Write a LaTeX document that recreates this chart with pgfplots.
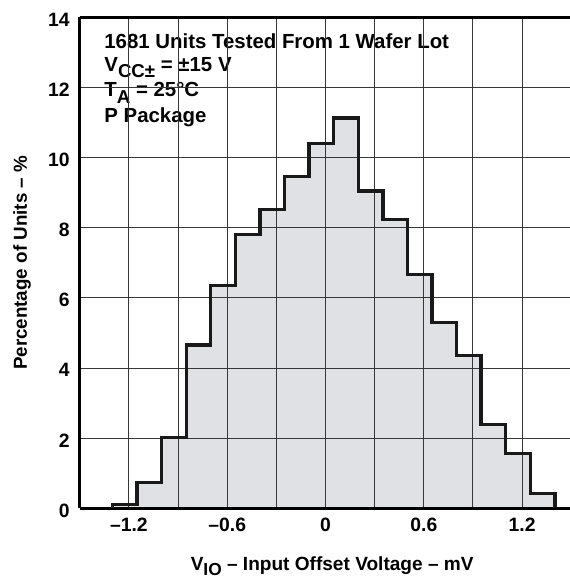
\documentclass[border=0pt]{standalone}
\usepackage{fontspec}
\setmainfont{Liberation Sans}
\usepackage{pgfplots}
\pgfplotsset{compat=1.18}
\definecolor{histfill}{RGB}{224,225,228}
\definecolor{gridc}{RGB}{55,55,55}
\pgfplotstableread{
x y
-1.30 0
-1.30 0.10
-1.15 0.74
-1.00 2.02
-0.85 4.66
-0.70 6.35
-0.55 7.81
-0.40 8.52
-0.25 9.46
-0.10 10.40
0.05 11.13
0.20 9.05
0.35 8.23
0.50 6.66
0.65 5.30
0.80 4.36
0.95 2.39
1.10 1.56
1.25 0.42
1.40 0.42
1.40 0
}\histdata
\begin{document}
\begin{tikzpicture}
\begin{axis}[
  set layers=axis on top,
  scale only axis,
  width=368.6pt, height=368.1pt,
  xmin=-1.5, xmax=1.5, ymin=0, ymax=14,
  axis x line=box, axis y line=left,
  xtick={-1.2,-0.6,0,0.6,1.2},
  xticklabels={–1.2,–0.6,0,0.6,1.2},
  minor xtick={-0.9,-0.3,0.3,0.9},
  ytick={0,2,...,14},
  grid=both,
  major grid style={gridc, line width=0.8pt},
  minor grid style={gridc, line width=0.8pt},
  major tick length=0pt, minor tick length=0pt,
  axis line style={line width=2pt, -},
  x axis line style={-}, y axis line style={-},
  tick label style={font=\bfseries\fontsize{14.5}{17}\selectfont},
  xticklabel style={yshift=-4pt},
  yticklabel style={xshift=-4pt, yshift=-1.7pt},
  /pgf/number format/assume math mode=true,
  xlabel={V\raisebox{-3.5pt}{\fontsize{13}{14}\selectfont IO} – Input Offset Voltage – mV},
  ylabel={Percentage of Units – \%},
  xlabel style={font=\bfseries\fontsize{14.3}{17}\selectfont, at={(axis description cs:0.5,0)}, anchor=base, yshift=-46.6pt, xshift=5pt},
  ylabel style={font=\bfseries\fontsize{14.1}{17}\selectfont, at={(axis description cs:-0.1074,0.5)}, anchor=base},
]
\addplot[const plot, fill=histfill, draw=none] table {\histdata} \closedcycle;
\addplot[const plot, on layer=axis foreground, line width=2.5pt, line join=miter, black!90] table {\histdata};
\coordinate (t1) at (axis cs:-1.40,13.12);
\coordinate (t2) at (axis cs:-1.40,12.47);
\coordinate (t3) at (axis cs:-1.40,11.74);
\coordinate (t4) at (axis cs:-1.40,11.01);
\coordinate (sw) at (rel axis cs:0,0);
\end{axis}
\tikzset{tl/.style={anchor=base west, fill=white, inner xsep=6pt, inner ysep=0pt, text height=12.5pt, text depth=3.6pt, font=\bfseries\fontsize{15.3}{17}\selectfont}}
\node[tl] at (t1) {1681 Units Tested From 1 Wafer Lot};
\node[tl] at (t2) {V\raisebox{-5pt}{\fontsize{14}{14}\selectfont CC±} = ±15 V};
\node[tl] at (t3) {T\raisebox{-5pt}{\fontsize{14}{14}\selectfont A} = 25°C\hspace{6pt}};
\node[tl] at (t4) {P Package};
\pgfresetboundingbox
\path ([shift={(-59.8pt,-51.5pt)}]sw) rectangle ([shift={(366.9pt,381.2pt)}]sw);
\end{tikzpicture}
\end{document}
